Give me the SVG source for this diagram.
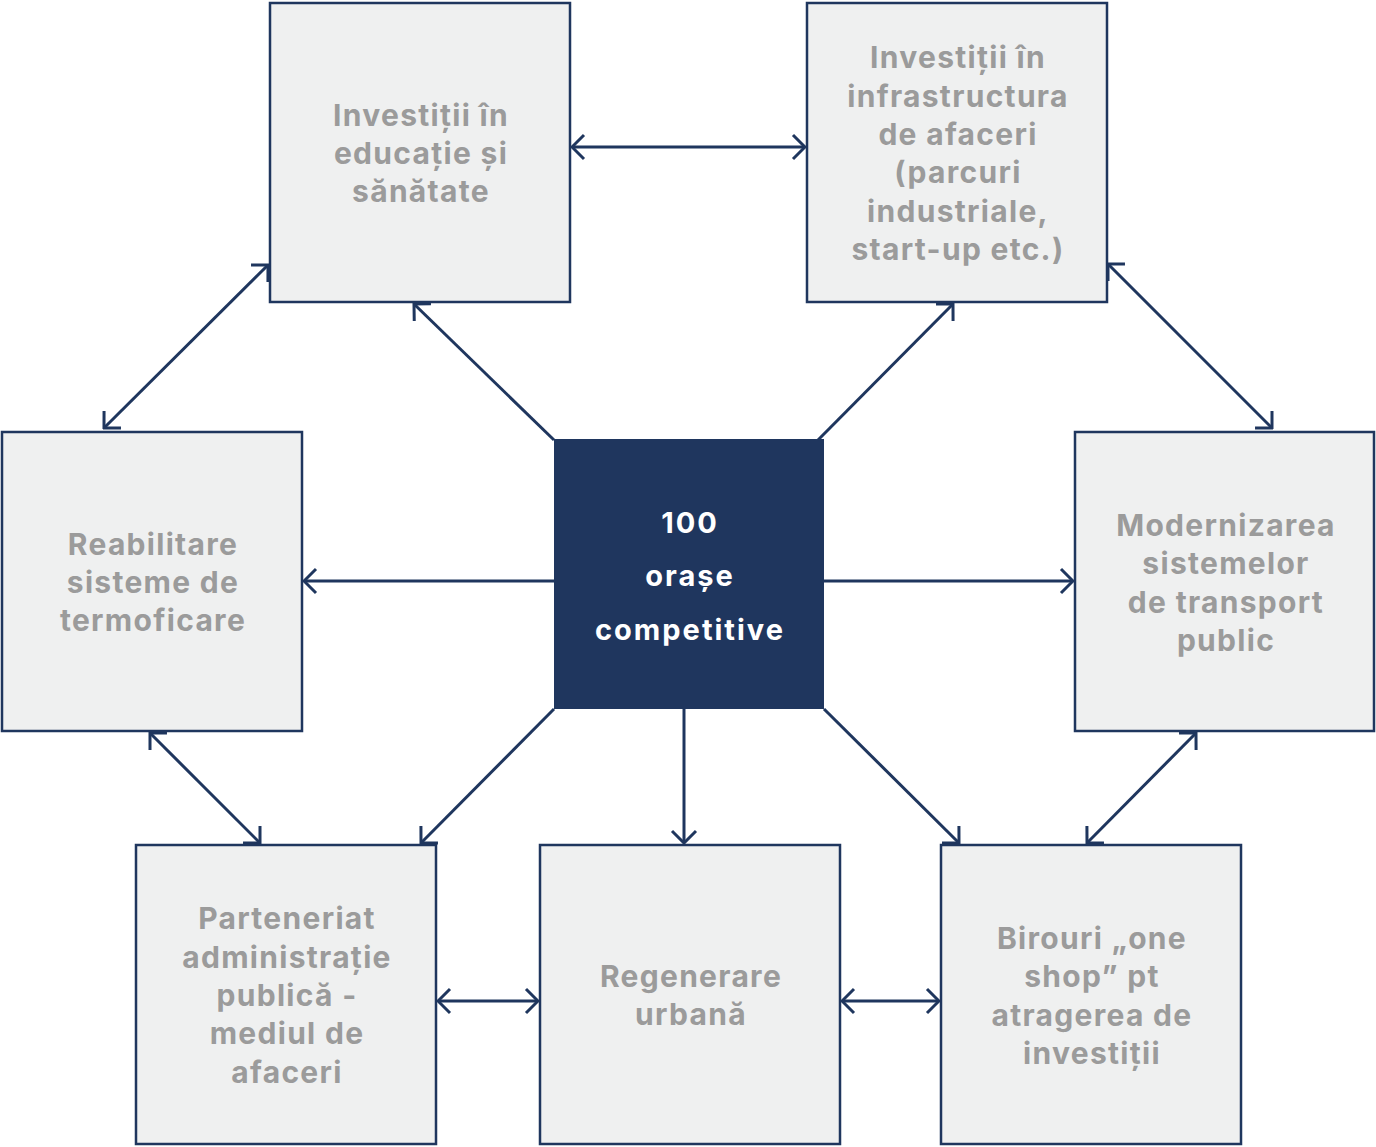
<svg xmlns="http://www.w3.org/2000/svg" width="1376" height="1147" viewBox="0 0 1376 1147">
<style>
.box{fill:#eff0f0;stroke:#1f365e;stroke-width:2.5}
.center{fill:#1f365e}
.t{font-family:Inter,"Noto Sans",sans-serif;font-weight:700;font-size:30px;letter-spacing:1.3px;fill:#9b9b9b;text-anchor:middle}
.tc{font-family:Inter,"Noto Sans",sans-serif;font-weight:700;font-size:29px;letter-spacing:2px;fill:#ffffff;text-anchor:middle}
.c{stroke:#1f365e;stroke-width:3;fill:none}
</style>
<defs>
<marker id="ah" viewBox="0 0 16 28" refX="14" refY="14" markerWidth="16" markerHeight="28" markerUnits="userSpaceOnUse" orient="auto-start-reverse">
<path d="M2,2 L14,14 L2,26" fill="none" stroke="#1f365e" stroke-width="3"/>
</marker>
</defs>
<g id="connectors">
<line class="c" x1="572" y1="147" x2="805" y2="147" marker-start="url(#ah)" marker-end="url(#ah)"/>
<line class="c" x1="268" y1="265" x2="104" y2="428" marker-start="url(#ah)" marker-end="url(#ah)"/>
<line class="c" x1="554" y1="440" x2="414" y2="304" marker-end="url(#ah)"/>
<line class="c" x1="818" y1="440" x2="953" y2="304" marker-end="url(#ah)"/>
<line class="c" x1="1108" y1="264" x2="1272" y2="428" marker-start="url(#ah)" marker-end="url(#ah)"/>
<line class="c" x1="554" y1="581" x2="304" y2="581" marker-end="url(#ah)"/>
<line class="c" x1="824" y1="581" x2="1073" y2="581" marker-end="url(#ah)"/>
<line class="c" x1="150" y1="733" x2="260" y2="843" marker-start="url(#ah)" marker-end="url(#ah)"/>
<line class="c" x1="554" y1="709" x2="421" y2="843" marker-end="url(#ah)"/>
<line class="c" x1="684" y1="709" x2="684" y2="843" marker-end="url(#ah)"/>
<line class="c" x1="824" y1="709" x2="959" y2="843" marker-end="url(#ah)"/>
<line class="c" x1="1196" y1="733" x2="1087" y2="843" marker-start="url(#ah)" marker-end="url(#ah)"/>
<line class="c" x1="438" y1="1001" x2="538" y2="1001" marker-start="url(#ah)" marker-end="url(#ah)"/>
<line class="c" x1="842" y1="1001" x2="939" y2="1001" marker-start="url(#ah)" marker-end="url(#ah)"/>
</g>
<g id="node-center">
<rect class="center" x="554" y="439" width="270" height="270"/>
<text class="tc" x="690" y="533">100</text>
<text class="tc" x="690" y="586">orașe</text>
<text class="tc" x="690" y="640">competitive</text>
</g>
<g id="node-educatie">
<rect class="box" x="270" y="3" width="300" height="299"/>
<text class="t" x="421" y="126">Investiții în</text>
<text class="t" x="421" y="164">educație și</text>
<text class="t" x="421" y="202">sănătate</text>
</g>
<g id="node-infrastructura">
<rect class="box" x="807" y="3" width="300" height="299"/>
<text class="t" x="958" y="68">Investiții în</text>
<text class="t" x="958" y="107">infrastructura</text>
<text class="t" x="958" y="145">de afaceri</text>
<text class="t" x="958" y="183">(parcuri</text>
<text class="t" x="958" y="222">industriale,</text>
<text class="t" x="958" y="260">start-up etc.)</text>
</g>
<g id="node-termoficare">
<rect class="box" x="2" y="432" width="300" height="299"/>
<text class="t" x="153" y="555">Reabilitare</text>
<text class="t" x="153" y="593">sisteme de</text>
<text class="t" x="153" y="631">termoficare</text>
</g>
<g id="node-transport">
<rect class="box" x="1075" y="432" width="299" height="299"/>
<text class="t" x="1226" y="536">Modernizarea</text>
<text class="t" x="1226" y="574">sistemelor</text>
<text class="t" x="1226" y="613">de transport</text>
<text class="t" x="1226" y="651">public</text>
</g>
<g id="node-parteneriat">
<rect class="box" x="136" y="845" width="300" height="299"/>
<text class="t" x="287" y="929">Parteneriat</text>
<text class="t" x="287" y="968">administrație</text>
<text class="t" x="287" y="1006">publică -</text>
<text class="t" x="287" y="1044">mediul de</text>
<text class="t" x="287" y="1083">afaceri</text>
</g>
<g id="node-regenerare">
<rect class="box" x="540" y="845" width="300" height="299"/>
<text class="t" x="691" y="987">Regenerare</text>
<text class="t" x="691" y="1025">urbană</text>
</g>
<g id="node-birouri">
<rect class="box" x="941" y="845" width="300" height="299"/>
<text class="t" x="1092" y="949">Birouri „one</text>
<text class="t" x="1092" y="987">shop” pt</text>
<text class="t" x="1092" y="1026">atragerea de</text>
<text class="t" x="1092" y="1064">investiții</text>
</g>
</svg>
